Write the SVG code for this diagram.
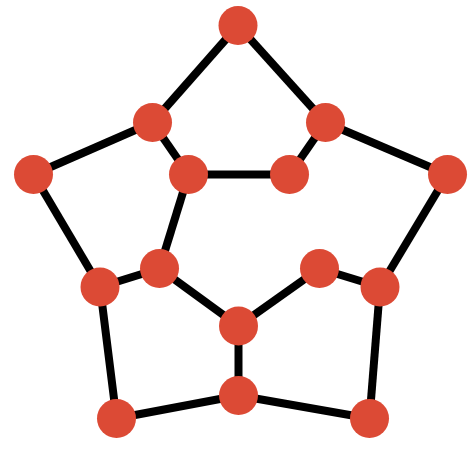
<svg xmlns="http://www.w3.org/2000/svg" width="474" height="451" viewBox="0 0 474 451">
<style>
.e{stroke:#000;stroke-width:8;stroke-linecap:butt}
.n{fill:#DC4A35}
</style>
<rect width="474" height="451" fill="#fff"/>
<g id="edges">
<line class="e" x1="238" y1="25.5" x2="152.5" y2="122.5"/>
<line class="e" x1="238" y1="25.5" x2="325.5" y2="122.5"/>
<line class="e" x1="152.5" y1="122.5" x2="33.5" y2="174.5"/>
<line class="e" x1="152.5" y1="122.5" x2="188.5" y2="174.5"/>
<line class="e" x1="325.5" y1="122.5" x2="289.5" y2="174.5"/>
<line class="e" x1="325.5" y1="122.5" x2="447.5" y2="174.5"/>
<line class="e" x1="188.5" y1="174.5" x2="289.5" y2="174.5"/>
<line class="e" x1="188.5" y1="174.5" x2="159.5" y2="268.5"/>
<line class="e" x1="33.5" y1="174.5" x2="100" y2="287"/>
<line class="e" x1="159.5" y1="268.5" x2="100" y2="287"/>
<line class="e" x1="159.5" y1="268.5" x2="238.5" y2="326"/>
<line class="e" x1="319.5" y1="268.5" x2="238.5" y2="326"/>
<line class="e" x1="319.5" y1="268.5" x2="380" y2="287"/>
<line class="e" x1="447.5" y1="174.5" x2="380" y2="287"/>
<line class="e" x1="238.5" y1="326" x2="238.5" y2="395.5"/>
<line class="e" x1="100" y1="287" x2="116.5" y2="418.5"/>
<line class="e" x1="238.5" y1="395.5" x2="116.5" y2="418.5"/>
<line class="e" x1="238.5" y1="395.5" x2="369.5" y2="418.5"/>
<line class="e" x1="380" y1="287" x2="369.5" y2="418.5"/>
</g>
<g id="n1"><circle class="n" cx="238" cy="25.5" r="19.5"/></g>
<g id="n2"><circle class="n" cx="152.5" cy="122.5" r="19.5"/></g>
<g id="n3"><circle class="n" cx="325.5" cy="122.5" r="19.5"/></g>
<g id="n4"><circle class="n" cx="33.5" cy="174.5" r="19.5"/></g>
<g id="n5"><circle class="n" cx="188.5" cy="174.5" r="19.5"/></g>
<g id="n6"><circle class="n" cx="289.5" cy="174.5" r="19.5"/></g>
<g id="n7"><circle class="n" cx="447.5" cy="174.5" r="19.5"/></g>
<g id="n8"><circle class="n" cx="159.5" cy="268.5" r="19.5"/></g>
<g id="n9"><circle class="n" cx="319.5" cy="268.5" r="19.5"/></g>
<g id="n10"><circle class="n" cx="100" cy="287" r="19.5"/></g>
<g id="n11"><circle class="n" cx="380" cy="287" r="19.5"/></g>
<g id="n12"><circle class="n" cx="238.5" cy="326" r="19.5"/></g>
<g id="n13"><circle class="n" cx="238.5" cy="395.5" r="19.5"/></g>
<g id="n14"><circle class="n" cx="116.5" cy="418.5" r="19.5"/></g>
<g id="n15"><circle class="n" cx="369.5" cy="418.5" r="19.5"/></g>
</svg>
